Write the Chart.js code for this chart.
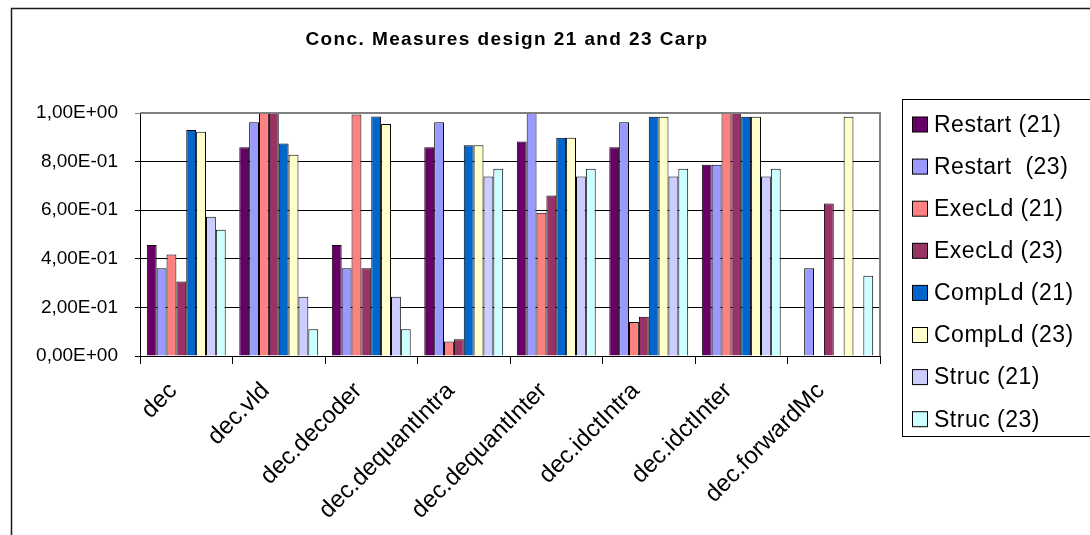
<!DOCTYPE html>
<html>
<head>
<meta charset="utf-8">
<script src="https://cdn.jsdelivr.net/npm/chart.js@4.4.1/dist/chart.umd.min.js"></script>
<style>
  html, body { margin: 0; padding: 0; background: #ffffff; }
  #wrap { width: 1090px; height: 535px; position: relative; }
</style>
</head>
<body>
<div id="wrap"><canvas id="c" width="1090" height="535"></canvas></div>
<script>
// Components of the decoder
const categories = ['dec', 'dec.vld', 'dec.decoder', 'dec.dequantIntra', 'dec.dequantInter', 'dec.idctIntra', 'dec.idctInter', 'dec.forwardMc'];

// Concurrency measures per design (21 / 23)
const restart21 = [0.457, 0.859, 0.457, 0.859, 0.883, 0.859, 0.787, null];
const restart23 = [0.361, 0.962, 0.361, 0.962, 1.000, 0.962, 0.787, 0.361];
const execLd21  = [0.418, 1.000, 0.994, 0.060, 0.590, 0.140, 1.000, null];
const execLd23  = [0.307, 1.000, 0.361, 0.069, 0.661, 0.162, 1.000, 0.628];
const compLd21  = [0.930, 0.875, 0.986, 0.867, 0.898, 0.985, 0.985, null];
const compLd23  = [0.923, 0.828, 0.955, 0.867, 0.898, 0.985, 0.985, 0.985];
const struc21   = [0.573, 0.244, 0.244, 0.739, 0.739, 0.739, 0.739, null];
const struc23   = [0.520, 0.110, 0.110, 0.771, 0.771, 0.771, 0.771, 0.330];

const seriesNames = ['Restart (21)', 'Restart  (23)', 'ExecLd (21)', 'ExecLd (23)', 'CompLd (21)', 'CompLd (23)', 'Struc (21)', 'Struc (23)'];
const seriesColors = ['#660066', '#9999FF', '#FF8080', '#993366', '#0066CC', '#FFFFCC', '#CCCCFF', '#CCFFFF'];
const seriesValues = [restart21, restart23, execLd21, execLd23, compLd21, compLd23, struc21, struc23];

const yTickLabels = ['0,00E+00', '2,00E-01', '4,00E-01', '6,00E-01', '8,00E-01', '1,00E+00'];
const titleText = 'Conc. Measures design 21 and 23 Carp';

const FONT = "'Liberation Sans', Arial, sans-serif";

// Outer frame, title, plot frame and boxed legend
const decorPlugin = {
  id: 'decor',
  beforeDraw(chart) {
    const ctx = chart.ctx;
    ctx.save();
    ctx.fillStyle = '#ffffff';
    ctx.fillRect(0, 0, chart.width, chart.height);
    ctx.restore();
  },
  afterDraw(chart) {
    const ctx = chart.ctx;
    const a = chart.chartArea;
    ctx.save();

    // outer chart frame
    ctx.strokeStyle = '#1a1a1a';
    ctx.lineWidth = 1.5;
    ctx.beginPath();
    ctx.moveTo(11.5, 540);
    ctx.lineTo(11.5, 8.5);
    ctx.lineTo(1100, 8.5);
    ctx.stroke();

    // plot area frame (top and right in grey)
    ctx.strokeStyle = '#808080';
    ctx.lineWidth = 2;
    ctx.beginPath();
    ctx.moveTo(a.left, a.top);
    ctx.lineTo(a.right, a.top);
    ctx.lineTo(a.right, a.bottom);
    ctx.stroke();

    // title
    ctx.fillStyle = '#000000';
    ctx.font = 'bold 19px ' + FONT;
    ctx.textAlign = 'center';
    ctx.textBaseline = 'alphabetic';
    if ('letterSpacing' in ctx) ctx.letterSpacing = '1.4px';
    ctx.fillText(titleText, 507, 45);
    if ('letterSpacing' in ctx) ctx.letterSpacing = '0px';

    // legend box
    ctx.strokeStyle = '#000000';
    ctx.lineWidth = 1;
    ctx.strokeRect(902.5, 99.5, 300, 337);

    ctx.font = '23px ' + FONT;
    ctx.textAlign = 'left';
    ctx.textBaseline = 'middle';
    if ('letterSpacing' in ctx) ctx.letterSpacing = '0.5px';
    chart.data.datasets.forEach((ds, i) => {
      const cy = 124.5 + i * 42.1;
      ctx.fillStyle = ds.backgroundColor;
      ctx.fillRect(912.5, cy - 7.5, 15, 15);
      ctx.strokeStyle = '#000000';
      ctx.strokeRect(912.5, cy - 7.5, 15, 15);
      ctx.fillStyle = '#000000';
      ctx.fillText(ds.label, 934, cy + 1);
    });
    ctx.restore();
  }
};

const datasets = seriesNames.map((name, i) => ({
  label: name,
  data: seriesValues[i],
  backgroundColor: seriesColors[i],
  borderColor: '#000000',
  borderWidth: 1,
  borderSkipped: 'bottom',
  categoryPercentage: 0.853,
  barPercentage: 1.0
}));

new Chart(document.getElementById('c'), {
  type: 'bar',
  data: { labels: categories, datasets },
  options: {
    responsive: false,
    animation: false,
    devicePixelRatio: 1,
    layout: { padding: { left: 4, right: 210, top: 113, bottom: 0 } },
    plugins: {
      legend: { display: false },
      title: { display: false },
      tooltip: { enabled: false }
    },
    scales: {
      x: {
        offset: true,
        grid: {
          offset: true,
          drawOnChartArea: false,
          drawTicks: true,
          tickLength: 8,
          color: '#000000',
          lineWidth: 1
        },
        border: { display: true, color: '#000000', width: 1 },
        ticks: {
          autoSkip: false,
          maxRotation: 45,
          minRotation: 45,
          padding: 13,
          labelOffset: -13,
          color: '#000000',
          font: { family: FONT, size: 24 }
        },
        afterFit(scale) { scale.height = 179; }
      },
      y: {
        min: 0,
        max: 1,
        grid: {
          drawTicks: true,
          tickLength: 5,
          color: (c) => (c.tick && c.tick.value >= 1 ? '#808080' : '#000000'),
          lineWidth: 1
        },
        border: { display: true, color: '#000000', width: 1 },
        ticks: {
          stepSize: 0.2,
          padding: 17,
          color: '#000000',
          font: { family: FONT, size: 19 },
          callback: (v, idx) => yTickLabels[idx]
        },
        afterFit(scale) { scale.width = 136; }
      }
    }
  },
  plugins: [decorPlugin]
});
</script>
</body>
</html>
